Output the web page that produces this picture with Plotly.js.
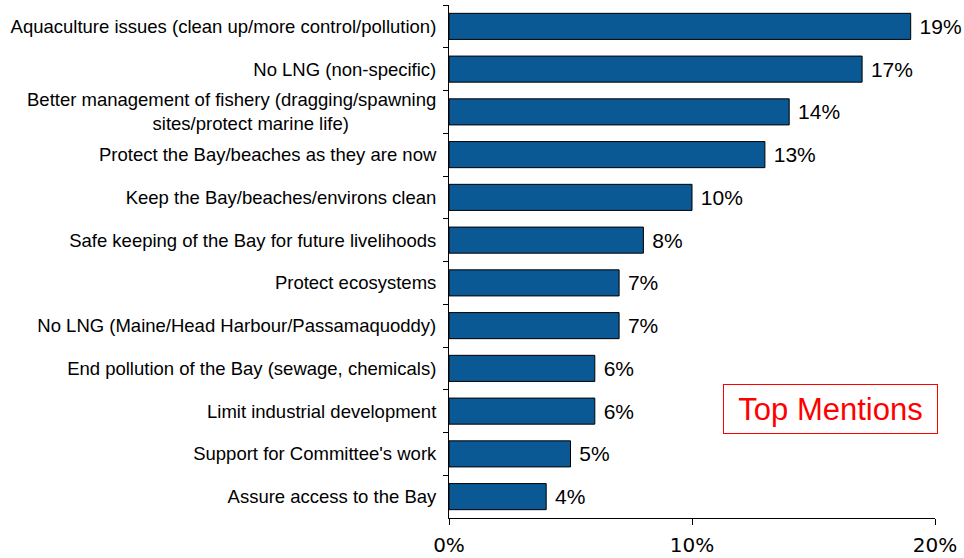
<!DOCTYPE html>
<html>
<head>
<meta charset="utf-8">
<script src="https://cdn.plot.ly/plotly-3.0.1.min.js"></script>
<style>html,body{margin:0;padding:0;background:#fff;}#chart{width:964px;height:558px;}</style>
</head>
<body>
<div id="chart"></div>
<script>
const categories = [
  "Aquaculture issues (clean up/more control/pollution)",
  "No LNG (non-specific)",
  "Better management of fishery (dragging/spawning<br>sites/protect marine life)\u00a0\u00a0\u00a0\u00a0\u00a0\u00a0\u00a0\u00a0\u00a0\u00a0\u00a0\u00a0\u00a0\u00a0\u00a0\u00a0\u00a0",
  "Protect the Bay/beaches as they are now",
  "Keep the Bay/beaches/environs clean",
  "Safe keeping of the Bay for future livelihoods",
  "Protect ecosystems",
  "No LNG (Maine/Head Harbour/Passamaquoddy)",
  "End pollution of the Bay (sewage, chemicals)",
  "Limit industrial development",
  "Support for Committee's work",
  "Assure access to the Bay"
];
const values = [19, 17, 14, 13, 10, 8, 7, 7, 6, 6, 5, 4];
const labels = values.map(v => "\u00a0" + v + "%");
const xTickVals = [0, 10, 20];
const xTickText = ["0%", "10%", "20%"];
const noteText = "Top Mentions";

const trace = {
  type: "bar",
  orientation: "h",
  y: categories,
  x: values,
  text: labels,
  textposition: "outside",
  cliponaxis: false,
  textfont: {family: "Liberation Sans, Arial, sans-serif", size: 21, color: "#000"},
  marker: {color: "#0a5894", line: {color: "#000", width: 1}},
  hoverinfo: "none"
};

const layout = {
  width: 964, height: 558,
  margin: {l: 449, r: 29, t: 5, b: 40},
  paper_bgcolor: "#fff", plot_bgcolor: "#fff",
  bargap: 0.39,
  showlegend: false,
  xaxis: {
    range: [0, 20],
    tickvals: xTickVals, ticktext: xTickText,
    showgrid: false, zeroline: false,
    showline: true, linecolor: "#000", linewidth: 1,
    ticks: "outside", ticklen: 6, tickcolor: "#000",
    ticklabelstandoff: 3,
    tickfont: {family: "DejaVu Sans, Verdana, sans-serif", size: 20, color: "#000"}
  },
  yaxis: {
    autorange: "reversed",
    type: "category",
    showgrid: false, zeroline: false,
    showline: true, linecolor: "#000", linewidth: 1,
    ticks: "outside", ticklen: 5, tickcolor: "#000",
    tickson: "boundaries",
    ticklabelstandoff: 8,
    tickfont: {family: "Liberation Sans, Arial, sans-serif", size: 18.5, color: "#000"}
  },
  annotations: [{
    xref: "paper", yref: "paper",
    x: 0.784, y: 0.2125,
    xanchor: "center", yanchor: "middle",
    text: noteText, showarrow: false,
    font: {family: "Liberation Sans, Arial, sans-serif", size: 31, color: "#ff0000"},
    bordercolor: "#ff0000", borderwidth: 1, borderpad: 0,
    bgcolor: "#fff",
    width: 213, height: 48
  }]
};

Plotly.newPlot("chart", [trace], layout, {displayModeBar: false, staticPlot: true});
</script>
</body>
</html>
